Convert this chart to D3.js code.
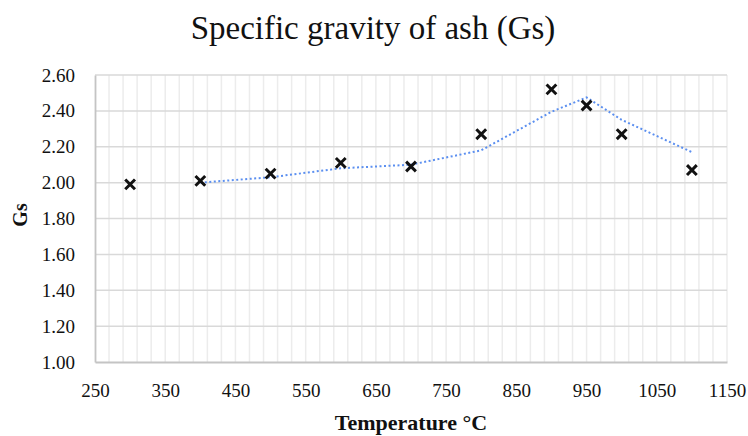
<!DOCTYPE html>
<html>
<head>
<meta charset="utf-8">
<script src="https://cdn.jsdelivr.net/npm/d3@7"></script>
<style>
  body { margin: 0; background: #fff; }
  svg text { font-family: "Liberation Serif", "DejaVu Serif", serif !important; fill: #111; }
  .tick text { font-size: 19px; }
</style>
</head>
<body>
<div class="chart"></div>
<script>
// Data
var temperatures = [300, 400, 500, 600, 700, 800, 900, 950, 1000, 1100];
var gsValues = [1.99, 2.01, 2.05, 2.11, 2.09, 2.27, 2.52, 2.43, 2.27, 2.07];

// dotted trendline (2-point moving average in the original)
var trendTemps = [400, 500, 600, 700, 800, 900, 950, 1000, 1100];
var trendValues = [2.00, 2.03, 2.08, 2.10, 2.18, 2.395, 2.475, 2.35, 2.17];

var xTickValues = [250, 350, 450, 550, 650, 750, 850, 950, 1050, 1150];
var yTickValues = [1.00, 1.20, 1.40, 1.60, 1.80, 2.00, 2.20, 2.40, 2.60];

// Dimensions
var width = 748, height = 436;
var margin = {top: 75, right: 21, bottom: 74, left: 95};
var innerW = width - margin.left - margin.right;
var innerH = height - margin.top - margin.bottom;

var svg = d3.select('.chart')
    .append('svg')
    .attr('width', width)
    .attr('height', height);

var x = d3.scaleLinear().domain([250, 1150]).range([0, innerW]);
var y = d3.scaleLinear().domain([1.0, 2.6]).range([innerH, 0]);

var g = svg.append('g')
    .attr('transform', 'translate(' + margin.left + ',' + margin.top + ')');

// Minor vertical gridlines every 20
var minorX = d3.range(270, 1151, 20);
g.append('g')
    .selectAll('line')
    .data(minorX)
    .enter().append('line')
    .attr('x1', d => x(d)).attr('x2', d => x(d))
    .attr('y1', 0).attr('y2', innerH)
    .attr('stroke', '#ececec')
    .attr('stroke-width', 1.5);

// Major horizontal gridlines
g.append('g')
    .selectAll('line')
    .data(yTickValues.slice(1))
    .enter().append('line')
    .attr('x1', 0).attr('x2', innerW)
    .attr('y1', d => y(d)).attr('y2', d => y(d))
    .attr('stroke', '#d9d9d9')
    .attr('stroke-width', 1.5);

// Axes
var xAxis = d3.axisBottom(x).tickValues(xTickValues).tickSize(0).tickPadding(22)
    .tickFormat(d3.format('d'));
var yAxis = d3.axisLeft(y).tickValues(yTickValues).tickSize(0).tickPadding(20)
    .tickFormat(d3.format('.2f'));

var xg = g.append('g')
    .attr('transform', 'translate(0,' + innerH + ')')
    .call(xAxis);
var yg = g.append('g').call(yAxis);

[xg, yg].forEach(function(a){
    a.attr('font-family', null).attr('font-size', null);
    a.select('.domain').attr('stroke', '#c4c4c4').attr('stroke-width', 1.8);
    a.selectAll('text')
        .attr('font-family', 'Liberation Serif')
        .attr('fill', '#111');
});

// Trendline
var line = d3.line()
    .x((d, i) => x(trendTemps[i]))
    .y(d => y(d));

g.append('path')
    .datum(trendValues)
    .attr('d', line)
    .attr('fill', 'none')
    .attr('stroke', '#5b8ff0')
    .attr('stroke-width', 2)
    .attr('stroke-dasharray', '2,2.5');

// Markers
var marker = d3.symbol().type(d3.symbolX).size(64);
g.append('g')
    .selectAll('path')
    .data(gsValues)
    .enter().append('path')
    .attr('d', marker)
    .attr('transform', (d, i) => 'translate(' + x(temperatures[i]) + ',' + y(d) + ')')
    .attr('fill', 'none')
    .attr('stroke', '#111')
    .attr('stroke-width', 3);

// Titles
svg.append('text')
    .attr('x', 373)
    .attr('y', 39)
    .attr('text-anchor', 'middle')
    .style('font-size', '33px')
    .text('Specific gravity of ash (Gs)');

svg.append('text')
    .attr('x', 411)
    .attr('y', 430)
    .attr('text-anchor', 'middle')
    .style('font-size', '22px')
    .style('font-weight', 'bold')
    .text('Temperature °C');

svg.append('text')
    .attr('transform', 'translate(27,215) rotate(-90)')
    .attr('text-anchor', 'middle')
    .style('font-size', '20px')
    .style('font-weight', 'bold')
    .text('Gs');
</script>
</body>
</html>
